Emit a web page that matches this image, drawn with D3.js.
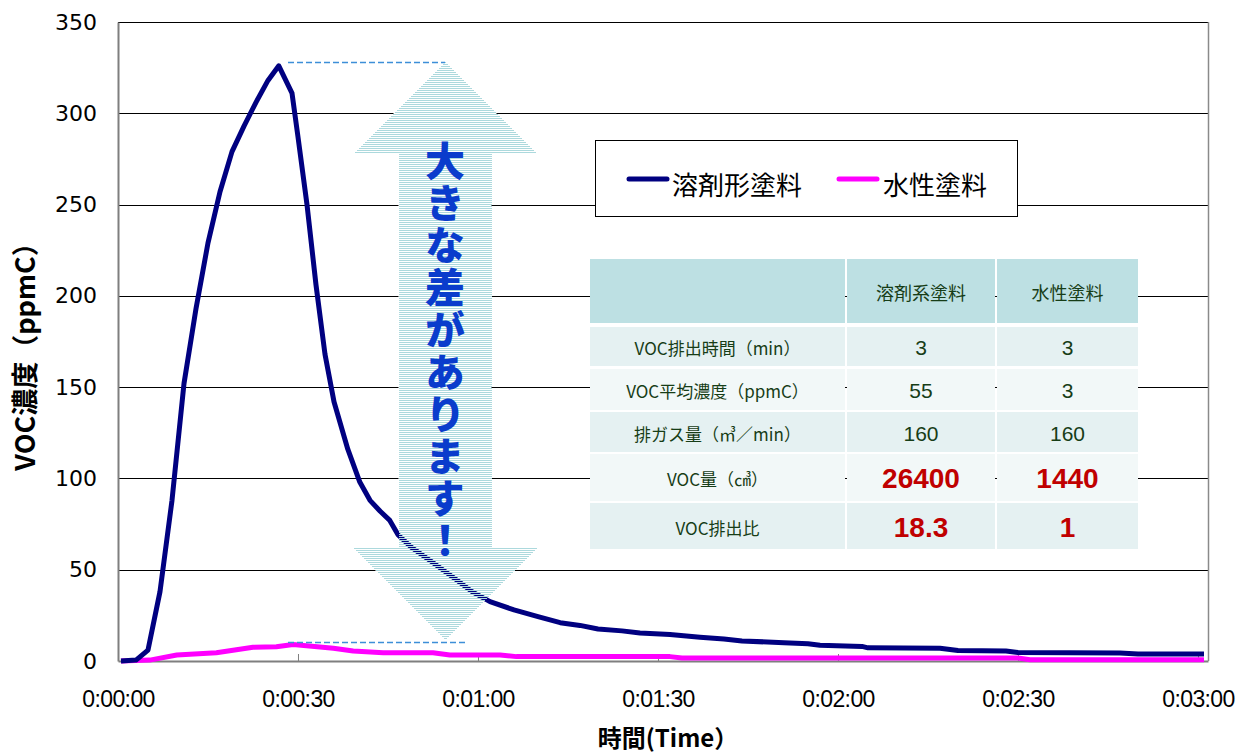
<!DOCTYPE html>
<html>
<head>
<meta charset="utf-8">
<script src="https://cdn.jsdelivr.net/npm/d3@7"></script>
<style>
  body { margin: 0; background: #fff; }
  svg { display: block; }
</style>
</head>
<body>
<svg id="chart" width="1242" height="753"></svg>
<script>
// Elapsed time (seconds) and VOC concentration (ppmC) for each coating type
const solventTime  = [0.5, 3, 5, 7, 9, 11, 13, 15, 17, 19, 21, 23, 25, 26.8, 29, 30, 31.5, 33, 34.5, 36, 38.3, 40.3, 42, 43.7, 45.3, 46.7, 49, 52, 56.4, 59, 62, 66, 70, 73.7, 77, 80, 84, 87, 92, 97, 101, 104, 111, 115, 117, 124, 125, 137, 140, 148, 150, 167, 170, 181];
const solventValue = [0, 0.5, 6, 38, 88, 152, 193, 229, 257, 279, 293, 306, 318, 326, 311, 287, 250, 206, 168, 142, 116, 98, 88, 82, 77, 69, 62, 55, 44.5, 38, 32.5, 28, 24.3, 21, 19.5, 17.5, 16.5, 15.3, 14.5, 13, 12, 11, 10, 9.5, 8.6, 8, 7.2, 7, 5.8, 5.5, 4.7, 4.4, 3.8, 3.8];
const waterTime  = [0.5, 5.3, 9.8, 16.4, 22.5, 26.4, 29.2, 31.4, 35.9, 39.2, 44.2, 52.5, 55.3, 63.7, 66.4, 92, 94, 150, 152, 181];
const waterValue = [0, 0.5, 3.3, 4.5, 7.5, 7.8, 9, 8.4, 7, 5.5, 4.5, 4.5, 3.3, 3.3, 2.4, 2.4, 1.6, 1.6, 0.7, 0.7];

const seriesNames  = ["溶剤形塗料", "水性塗料"];
const seriesColors = ["#000080", "#ff00ff"];

const yTicks = [0, 50, 100, 150, 200, 250, 300, 350];
const xTicks = [0, 30, 60, 90, 120, 150, 180];
const xTickLabels = ["0:00:00", "0:00:30", "0:01:00", "0:01:30", "0:02:00", "0:02:30", "0:03:00"];

// Summary table
const tableHeader    = ["", "溶剤系塗料", "水性塗料"];
const tableRowLabels = ["VOC排出時間（min）", "VOC平均濃度（ppmC）", "排ガス量（㎥／min）", "VOC量（㎤）", "VOC排出比"];
const tableSolvent   = ["3", "55", "160", "26400", "18.3"];
const tableWater     = ["3", "3", "160", "1440", "1"];
const emphasisRows   = [3, 4];

// Callout: peak of solvent type vs. peak of water-based type
const calloutText = "大きな差があります！";
const calloutTime = 54.5;
const upperLevel  = 328;
const lowerLevel  = 10.4;

const svg = d3.select("#chart");
const W = 1242, H = 753;
const plot = { left: 118, right: 1208, top: 22, bottom: 661 };

const x = d3.scaleLinear().domain([0, 181.67]).range([plot.left, plot.right]);
const y = d3.scaleLinear().domain([0, 350]).range([plot.bottom, plot.top]);

svg.append("rect").attr("width", W).attr("height", H).attr("fill", "#fff");

// Horizontal gridlines
svg.append("g")
  .selectAll("line")
  .data(yTicks.filter(d => d > 0))
  .join("line")
  .attr("x1", plot.left).attr("x2", plot.right)
  .attr("y1", d => Math.round(y(d)) + 0.5).attr("y2", d => Math.round(y(d)) + 0.5)
  .attr("stroke", "#000").attr("stroke-width", 1);

// Right border
svg.append("line")
  .attr("x1", plot.right + 0.5).attr("x2", plot.right + 0.5)
  .attr("y1", plot.top).attr("y2", plot.bottom)
  .attr("stroke", "#8a8a8a").attr("stroke-width", 1.5);

// Y axis
const yAxis = d3.axisLeft(y).tickValues(yTicks).tickSize(0).tickPadding(21);
const gy = svg.append("g").attr("transform", `translate(${plot.left},0)`).call(yAxis);
gy.select(".domain").attr("stroke", "#7f7f7f").attr("stroke-width", 2);
gy.selectAll("text")
  .attr("font-family", "DejaVu Sans, sans-serif")
  .attr("font-size", 22)
  .attr("fill", "#000");

// X axis (ticks point inward)
const xAxis = d3.axisBottom(x).tickValues(xTicks)
  .tickFormat((d, i) => xTickLabels[i]).tickSizeInner(-7).tickSizeOuter(0).tickPadding(30);
const gx = svg.append("g").attr("transform", `translate(0,${plot.bottom})`).call(xAxis);
gx.select(".domain").attr("stroke", "#7f7f7f").attr("stroke-width", 2);
gx.selectAll(".tick line").attr("stroke", "#7f7f7f");
gx.selectAll("text")
  .attr("font-family", "Liberation Sans, Arial, sans-serif")
  .attr("font-size", 23)
  .attr("letter-spacing", -0.6)
  .attr("fill", "#000");

// Axis titles
svg.append("text")
  .attr("transform", `translate(35,350) rotate(-90)`)
  .attr("text-anchor", "middle")
  .attr("font-family", "Noto Sans CJK JP, sans-serif")
  .attr("font-weight", 700)
  .attr("font-size", 27)
  .text("VOC濃度（ppmC）");

svg.append("text")
  .attr("x", 668).attr("y", 747)
  .attr("text-anchor", "middle")
  .attr("font-family", "Noto Sans CJK JP, sans-serif")
  .attr("font-weight", 700)
  .attr("font-size", 24)
  .text("時間(Time）");

// Double-headed callout arrow geometry
const ax = Math.round(x(calloutTime));
const aTop = Math.round(y(upperLevel));
const aBot = Math.round(y(lowerLevel)) - 2;
const headLen = 92, headHalf = 92, shaftHalf = 46.5;
const arrowPath = [
  [ax, aTop],
  [ax + headHalf, aTop + headLen],
  [ax + shaftHalf, aTop + headLen],
  [ax + shaftHalf, aBot - headLen],
  [ax + headHalf, aBot - headLen],
  [ax, aBot],
  [ax - headHalf, aBot - headLen],
  [ax - shaftHalf, aBot - headLen],
  [ax - shaftHalf, aTop + headLen],
  [ax - headHalf, aTop + headLen]
];
const arrowD = d3.line()(arrowPath) + "Z";

// Striped fill pattern
const defs = svg.append("defs");
const pat = defs.append("pattern")
  .attr("id", "stripes").attr("patternUnits", "userSpaceOnUse")
  .attr("width", 8).attr("height", 2);
pat.append("rect").attr("width", 8).attr("height", 1).attr("fill", "#acd9dd");

// White underlay hides gridlines beneath the arrow
svg.append("path").attr("d", arrowD).attr("fill", "#fff");

// Series lines
const line = d3.line().x(d => x(d[0])).y(d => y(d[1]));
const series = [
  d3.zip(waterTime, waterValue),
  d3.zip(solventTime, solventValue)
];
const seriesColorOrder = [seriesColors[1], seriesColors[0]];
svg.append("g")
  .selectAll("path")
  .data(series)
  .join("path")
  .attr("d", line)
  .attr("fill", "none")
  .attr("stroke", (d, i) => seriesColorOrder[i])
  .attr("stroke-width", 5)
  .attr("stroke-linejoin", "round")
  .attr("stroke-linecap", "butt");

// Striped arrow over the lines
svg.append("path").attr("d", arrowD).attr("fill", "url(#stripes)")
  .attr("shape-rendering", "crispEdges");

// Dashed level markers
const dashData = [
  { level: upperLevel, x1: 288, x2: ax },
  { level: lowerLevel, x1: 288, x2: 465 }
];
svg.append("g")
  .selectAll("line")
  .data(dashData)
  .join("line")
  .attr("x1", d => d.x1).attr("x2", d => d.x2)
  .attr("y1", d => Math.round(y(d.level)) + 0.5).attr("y2", d => Math.round(y(d.level)) + 0.5)
  .attr("stroke", "#3d8fd8").attr("stroke-width", 1.5)
  .attr("stroke-dasharray", "6,3");

// Vertical callout text
svg.append("text")
  .attr("x", ax)
  .attr("y", 141)
  .attr("style", "writing-mode: vertical-rl; text-orientation: upright;")
  .attr("font-family", "Noto Sans CJK JP, sans-serif")
  .attr("font-weight", 900)
  .attr("font-size", 40)
  .attr("letter-spacing", 2.1)
  .attr("fill", "#0a3ccc")
  .text(calloutText);

// Legend
const lg = svg.append("g");
lg.append("rect")
  .attr("x", 595.5).attr("y", 140.5).attr("width", 422).attr("height", 76)
  .attr("fill", "#fff").attr("stroke", "#000").attr("stroke-width", 1);
const legendItems = [
  { x1: 629, x2: 667, tx: 672 },
  { x1: 839, x2: 877, tx: 883 }
];
legendItems.forEach((it, i) => {
  lg.append("line")
    .attr("x1", it.x1).attr("x2", it.x2).attr("y1", 179).attr("y2", 179)
    .attr("stroke", seriesColors[i]).attr("stroke-width", 5).attr("stroke-linecap", "round");
  lg.append("text")
    .attr("x", it.tx).attr("y", 183)
    .attr("dominant-baseline", "central")
    .attr("font-family", "Noto Sans CJK JP, sans-serif")
    .attr("font-size", 26)
    .attr("fill", "#000")
    .text(seriesNames[i]);
});

// Summary table
const colX = [[590, 845], [847, 995], [997, 1138]];
const rowY = [[259, 323], [327, 366], [369, 410], [412, 452], [454, 501], [503, 549]];
const rowFill = ["#bde0e3", "#e5f1f2", "#f2f8f8", "#e5f1f2", "#f2f8f8", "#e5f1f2"];
const tg = svg.append("g");
rowY.forEach((r, ri) => {
  colX.forEach((c, ci) => {
    tg.append("rect")
      .attr("x", c[0]).attr("y", r[0])
      .attr("width", c[1] - c[0]).attr("height", r[1] - r[0])
      .attr("fill", rowFill[ri]);
  });
});
const textColor = "#173d17";
const cx = c => (c[0] + c[1]) / 2;
const cy = r => (r[0] + r[1]) / 2;
tableHeader.forEach((t, ci) => {
  if (!t) return;
  tg.append("text")
    .attr("x", cx(colX[ci])).attr("y", cy(rowY[0]) + 1)
    .attr("text-anchor", "middle").attr("dominant-baseline", "central")
    .attr("font-family", "Noto Sans CJK JP, sans-serif")
    .attr("font-size", 18).attr("fill", textColor)
    .text(t);
});
tableRowLabels.forEach((t, i) => {
  const r = rowY[i + 1];
  tg.append("text")
    .attr("x", cx(colX[0])).attr("y", cy(r) + 1)
    .attr("text-anchor", "middle").attr("dominant-baseline", "central")
    .attr("font-family", "Noto Sans CJK JP, sans-serif")
    .attr("font-size", 17).attr("fill", textColor)
    .text(t);
  [tableSolvent[i], tableWater[i]].forEach((v, k) => {
    const emph = emphasisRows.includes(i);
    tg.append("text")
      .attr("x", cx(colX[k + 1])).attr("y", cy(r) + 1)
      .attr("text-anchor", "middle").attr("dominant-baseline", "central")
      .attr("font-family", "Liberation Sans, Arial, sans-serif")
      .attr("font-weight", emph ? 700 : 400)
      .attr("font-size", emph ? 28 : 21)
      .attr("fill", emph ? "#c00000" : textColor)
      .text(v);
  });
});
</script>
</body>
</html>
